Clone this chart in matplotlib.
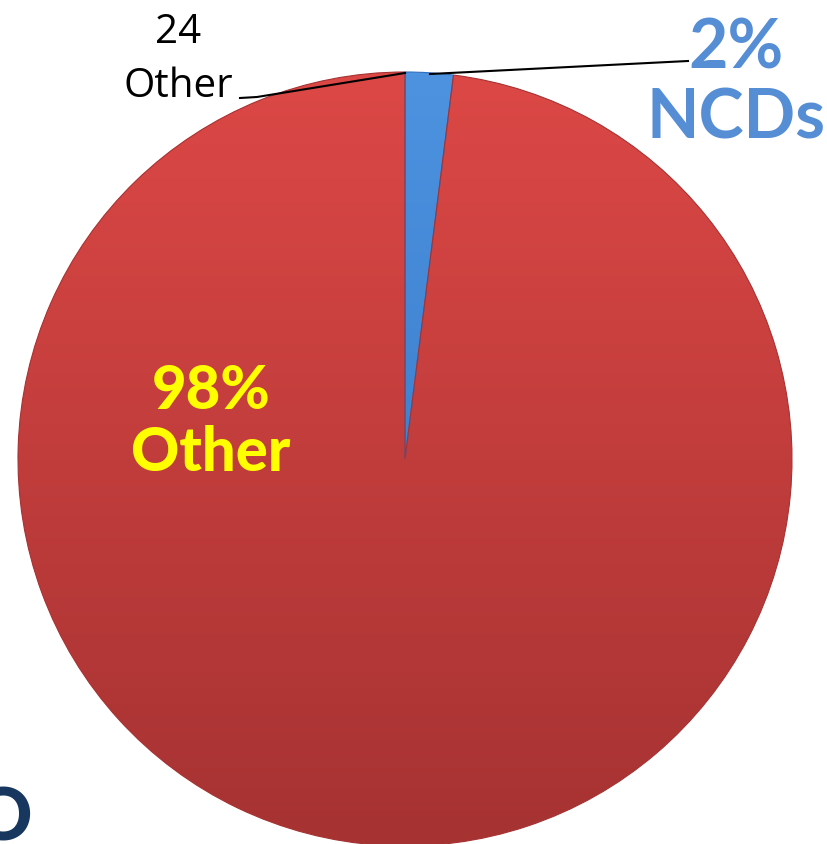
import matplotlib.pyplot as plt
import matplotlib.colors as mcolors
import numpy as np

# share of deaths
labels = ['NCDs', 'Other']
shares = [2, 98]
slice_colors = [('#4d93e0', '#2f6fbf'), ('#dc4846', '#a63232')]

fig = plt.figure(figsize=(8.27, 8.45), dpi=100)
ax = fig.add_axes([0, 0, 1, 1])

cx, cy, r = 405, 385, 387
wedges, _ = ax.pie(shares, startangle=90, counterclock=False, center=(cx, cy),
                   radius=r, colors=[c[0] for c in slice_colors],
                   wedgeprops=dict(linewidth=0.8), frame=True)

# vertical shading inside each slice
for w, (top, bottom) in zip(wedges, slice_colors):
    cmap = mcolors.LinearSegmentedColormap.from_list('shade', [bottom, top])
    grad = np.linspace(0, 1, 256).reshape(-1, 1)
    im = ax.imshow(grad, cmap=cmap, origin='lower', aspect='auto',
                   extent=(cx - r, cx + r, cy - r, cy + r), zorder=w.get_zorder() + 0.1)
    im.set_clip_path(w)
    w.set_edgecolor(bottom)
    w.set_zorder(w.get_zorder() + 0.2)
    w.set_facecolor('none')

ax.set_xlim(0, 827)
ax.set_ylim(0, 845)
ax.set_aspect('equal')
ax.axis('off')

# leader lines
ax.plot([240, 257, 405], [845 - 99, 845 - 98, 845 - 74], color='black', lw=1.5, zorder=5)
ax.plot([430, 688], [845 - 75, 845 - 62], color='black', lw=1.5, zorder=5)

ax.text(178, 845 - 60, '24\nOther', ha='center', va='center', fontsize=29,
        family='Open Sans', color='black', linespacing=1.45)
ax.text(736, 845 - 84, f'{shares[0]}%\n{labels[0]}', ha='center', va='center',
        fontsize=49, family='Lato', weight='bold', color='#558ed5', linespacing=1.12)
ax.text(211, 845 - 422, f'{shares[1]}%\n{labels[1]}', ha='center', va='center',
        fontsize=43, family='Lato', weight='black', color='#ffff00', linespacing=1.15)

ax.text(3, 845 - 820, 'O', ha='center', va='center', fontsize=52, family='Lato',
        weight='black', color='#17375e')

fig.savefig('out.png', dpi=100)
